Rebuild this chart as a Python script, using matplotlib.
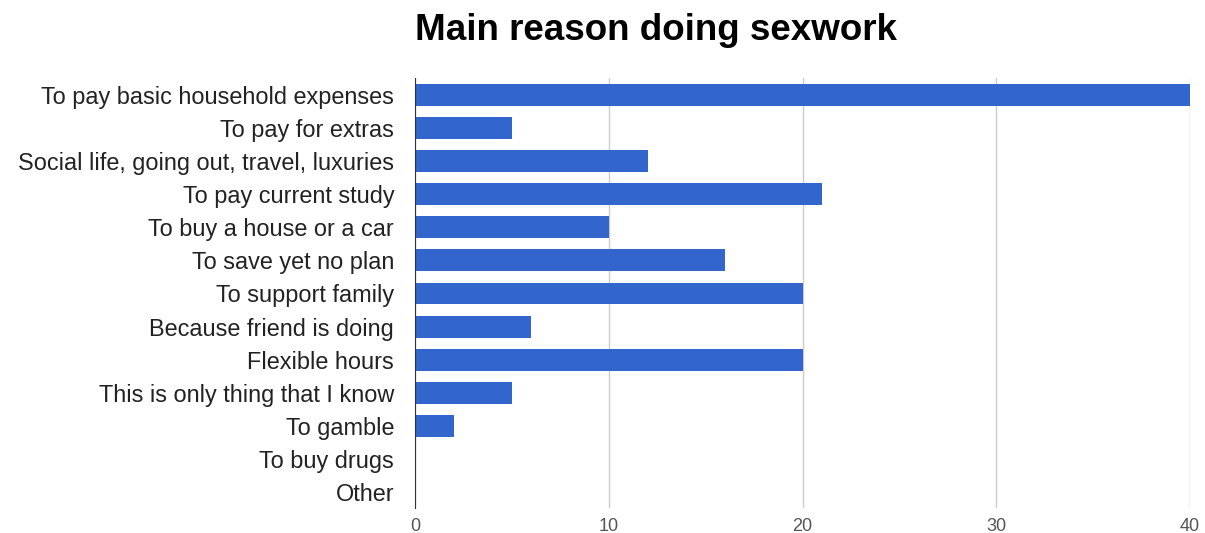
import numpy as np
import matplotlib.pyplot as plt

plt.rcParams['font.family'] = ['Liberation Sans', 'DejaVu Sans']

reasons = ['To pay basic household expenses', 'To pay for extras',
           'Social life, going out, travel, luxuries', 'To pay current study',
           'To buy a house or a car', 'To save yet no plan', 'To support family',
           'Because friend is doing', 'Flexible hours', 'This is only thing that I know',
           'To gamble', 'To buy drugs', 'Other']
counts = [40, 5, 12, 21, 10, 16, 20, 6, 20, 5, 2, 0, 0]
xticks = [0, 10, 20, 30, 40]

fig = plt.figure(figsize=(12.05, 5.33), dpi=100)
ax = fig.add_axes([415/1205, 1 - 508/533, 775/1205, 430/533])

y = np.arange(len(reasons))
ax.barh(y, counts, height=0.66, color='#3366cc', zorder=3)
ax.set_ylim(12.47, -0.5)
ax.set_xlim(0, 40)
ax.set_yticks(y)
ax.set_yticklabels(reasons, fontsize=16.9, color='#222222')
ax.set_xticks(xticks)
ax.set_xticklabels([str(t) for t in xticks], fontsize=13, color='#555555')
ax.tick_params(length=0)
ax.tick_params(axis='y', pad=15)
ax.tick_params(axis='x', pad=7)
ax.grid(axis='x', color='#cccccc', linewidth=1, zorder=0)
for s in ['top', 'right', 'bottom']:
    ax.spines[s].set_visible(False)
ax.spines['left'].set_color('#333333')
ax.spines['left'].set_zorder(4)

fig.text(656/1205, 1 - 31/533, 'Main reason doing sexwork', fontsize=26.5,
         fontweight='bold', ha='center', va='center', color='#000000')

fig.savefig('out.png', dpi=100)
